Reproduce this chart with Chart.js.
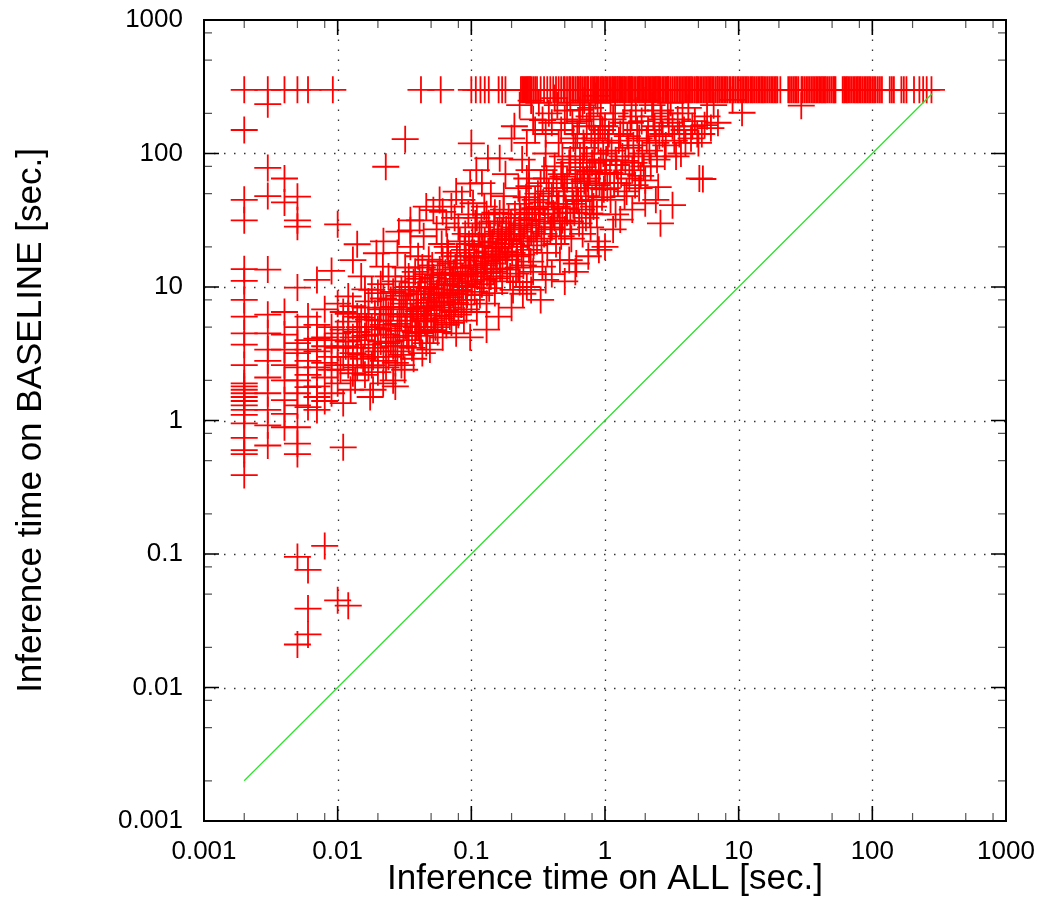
<!DOCTYPE html>
<html>
<head>
<meta charset="utf-8">
<script src="https://cdn.jsdelivr.net/npm/chart.js@4.4.1/dist/chart.umd.min.js"></script>
<style>
  html, body { margin: 0; padding: 0; background: #fff; }
  #wrap { width: 1048px; height: 923px; }
</style>
</head>
<body>
<div id="wrap"><canvas id="chart" width="1048" height="923"></canvas></div>
<script>
// axes
const decadeTicks = [0.001, 0.01, 0.1, 1, 10, 100, 1000];
const tickLabels = ['0.001', '0.01', '0.1', '1', '10', '100', '1000'];
const minorMults = [2, 5, 8];

// runs that hit the time limit on BASELINE (all plotted at y = 300)
const TIMEOUT_Y = 300;
const timeoutX = [0.002, 0.003, 0.004, 0.005, 0.006, 0.0092, 0.042, 0.059, 0.1, 0.108, 0.117, 0.126,
  0.135, 0.16, 0.17, 0.18, 0.235, 0.24, 0.245, 0.25, 0.255, 0.26, 0.265, 0.27, 0.275, 0.28, 0.29,
  0.3, 0.31, 0.33, 0.35, 0.37, 0.39, 0.41, 0.43, 0.45, 0.47, 0.49, 0.5, 0.52, 0.54, 0.55, 0.57,
  0.58, 0.6, 0.62, 0.63, 0.65, 0.66, 0.68, 0.7, 0.72, 0.74, 0.75, 0.78, 0.8, 0.82, 0.84, 0.86,
  0.88, 0.9, 0.93, 0.95, 0.97, 1.0, 1.02, 1.05, 1.08, 1.1, 1.13, 1.15, 1.18, 1.2, 1.23, 1.25,
  1.28, 1.3, 1.33, 1.36, 1.39, 1.42, 1.46, 1.5, 1.52, 1.55, 1.58, 1.6, 1.65, 1.7, 1.75, 1.79,
  1.82, 1.86, 1.9, 1.95, 2.0, 2.05, 2.1, 2.15, 2.2, 2.25, 2.3, 2.35, 2.4, 2.45, 2.5, 2.55, 2.6,
  2.68, 2.75, 2.82, 2.9, 2.95, 3.0, 3.1, 3.2, 3.3, 3.4, 3.5, 3.6, 3.7, 3.8, 3.9, 4.0, 4.1, 4.2,
  4.3, 4.4, 4.5, 4.65, 4.8, 4.9, 5.0, 5.15, 5.3, 5.45, 5.6, 5.75, 5.9, 6.05, 6.2, 6.35, 6.5,
  6.7, 6.9, 7.0, 7.2, 7.4, 7.6, 7.8, 8.0, 8.2, 8.5, 8.7, 9.0, 9.2, 9.5, 9.8, 10, 10.3, 10.6,
  10.9, 11.2, 11.5, 11.8, 12.2, 12.5, 12.8, 13.2, 13.6, 14, 14.4, 14.8, 15.1, 15.5, 16, 16.5,
  17, 17.5, 18, 18.5, 19, 19.5, 20.5, 23.5, 24.2, 25, 25.8, 26.5, 27.2, 28, 29.5, 30, 31, 32,
  33, 34, 35, 36, 37, 38, 39, 40, 41, 42, 43, 44, 45, 46.5, 48, 49.5, 51, 52, 53, 60, 61.5, 63,
  64.5, 66, 68, 70, 72, 74, 76, 78, 80, 82, 84.5, 87, 89.5, 92, 94.5, 97, 100, 103, 106, 110,
  114, 118, 135, 140, 145, 165, 172, 180, 205, 225, 240, 255, 277];

// [ALL, BASELINE] pairs, seconds
const leftPts = [
  [0.002,150],[0.002,45],[0.002,31.6],[0.002,13.6],[0.002,11.1],[0.002,8],[0.002,6],[0.002,4.5],
  [0.002,3.7],[0.002,2.6],[0.002,1.9],[0.002,1.8],[0.002,1.7],[0.002,1.6],[0.002,1.5],[0.002,1.4],
  [0.002,1.3],[0.002,1.2],[0.002,1.1],[0.002,0.95],[0.002,0.74],[0.002,0.6],[0.002,0.56],[0.002,0.39],
  [0.003,234],[0.003,78],[0.003,48],[0.003,13.5],[0.003,6.2],[0.003,4.5],[0.003,3.4],[0.003,2.8],
  [0.003,2.1],[0.003,1.6],[0.003,1.2],[0.003,0.92],[0.003,0.65],
  [0.004,65],[0.004,43],[0.004,6.5],[0.004,4.4],[0.004,3.4],[0.004,2.6],[0.004,2.0],[0.004,1.42],
  [0.004,1.12],[0.004,0.89],
  [0.005,47.5],[0.005,31.6],[0.005,28.3],[0.005,9.9],[0.005,5.0],[0.005,3.8],[0.005,3.2],[0.005,2.5],
  [0.005,2.0],[0.005,1.6],[0.005,1.3],[0.005,0.89],[0.005,0.67],[0.005,0.56],
  [0.006,6.0],[0.006,4.0],[0.006,3.4],[0.006,2.8],[0.006,2.2],[0.006,1.78],[0.006,1.26],
  [0.007,11.3],[0.007,5.2],[0.007,4.1],[0.007,3.3],[0.007,2.5],[0.007,1.8],[0.007,1.5],[0.007,1.2],
  [0.008,6.8],[0.008,4.2],[0.008,3.6],[0.008,2.7],[0.008,2.1],[0.008,1.4],
  [0.009,13.2],[0.009,5.0],[0.009,4.0],[0.009,3.0],[0.009,2.4],[0.009,1.6],
  [0.01,29.5],[0.01,7.5],[0.01,4.5],[0.01,3.5],[0.01,2.6],[0.01,1.9],
  [0.011,6.5],[0.011,4.8],[0.011,3.0],[0.011,1.35],[0.011,0.63],
  [0.012,8.5],[0.012,5.5],[0.012,3.9],[0.012,2.6],
  [0.013,15.9],[0.013,4.2],[0.013,2.26],
  [0.014,20.9],[0.014,6.0],[0.014,3.5]
];

const lowPts = [
  [0.005,0.095],[0.006,0.076],[0.008,0.115],[0.006,0.039],[0.01,0.045],[0.012,0.041],
  [0.006,0.025],[0.005,0.021]
];

const bandPtsA = [
  [0.0164,5.0],[0.0184,3.0],[0.0184,1.7],[0.0195,17.9],[0.0206,5.6],[0.0218,14.2],[0.0219,1.9],
  [0.0229,79.6],[0.023,3.8],[0.026,2.0],[0.0287,26],[0.029,6.3],[0.0317,2.4],[0.032,128],
  [0.035,31.6],[0.035,26.6],[0.0388,5.0],[0.0388,8],[0.041,31.6],[0.041,4.5],[0.046,3.8],[0.046,40],
  [0.049,3.4],[0.052,4.75],[0.052,8.9],[0.052,37.6],[0.0579,44.9],[0.061,36.6],[0.061,4.2],[0.069,6],
  [0.069,12.6],[0.0709,40],[0.077,4.5],[0.077,51.9],[0.091,15.9],[0.091,10],[0.098,4.2],[0.098,59.6],
  [0.015,4.0],[0.016,7.0],[0.017,2.5],[0.018,9.5],[0.019,4.4],[0.02,3.3],[0.021,6.8],[0.022,2.8],
  [0.024,4.9],[0.025,8.0],[0.026,3.6],[0.027,11],[0.028,5.3],[0.03,3.1],[0.031,7.5],[0.033,4.3],
  [0.034,10],[0.036,6.0],[0.037,2.9],[0.038,13],[0.04,6.6],[0.042,9.3],[0.043,3.2],[0.045,5.5],
  [0.047,7.2],[0.048,16],[0.05,11],[0.053,6.1],[0.055,9.0],[0.056,4.6],[0.058,13.5],[0.06,7.8],
  [0.063,10.5],[0.065,5.2],[0.067,18],[0.07,8.4],[0.072,11.5],[0.074,6.5],[0.076,14],[0.079,9.5],
  [0.082,22],[0.084,7.4],[0.086,12],[0.088,5.6],[0.09,25],[0.093,8.8],[0.095,13],[0.097,17],
  [0.0135,2.0],[0.0145,5.0],[0.0155,2.9],[0.017,5.7],[0.0125,1.7],[0.015,12],[0.0175,1.5],
  [0.02,9.0],[0.023,7.0],[0.027,1.8],[0.03,9.5],[0.035,20],[0.04,17],[0.044,24],[0.055,27],
  [0.06,21],[0.065,30],[0.075,33],[0.08,28],[0.085,45],[0.095,35],[0.024,12],[0.032,14],
  [0.022,22],[0.028,18],
  [0.0105,2.4],[0.0115,3.6],[0.012,6.3],[0.013,3.2],[0.013,7.2],[0.014,2.5],[0.014,4.6],[0.015,3.1],
  [0.015,5.9],[0.016,2.2],[0.016,4.3],[0.016,9.6],[0.017,3.7],[0.017,7.8],[0.018,2.6],[0.018,5.0],
  [0.019,3.5],[0.019,6.3],[0.02,2.3],[0.02,4.8],[0.021,3.9],[0.021,10.5],[0.022,5.2],[0.022,8.2],
  [0.023,2.5],[0.023,4.4],[0.024,3.0],[0.024,6.2],[0.025,3.9],[0.025,5.6],[0.026,7.1],[0.026,9.2],
  [0.027,4.2],[0.027,2.7],[0.028,3.3],[0.029,4.7],[0.029,8.6],[0.03,6.0],[0.03,2.6],
  [0.031,3.6],[0.032,5.1],[0.032,9.0],[0.033,6.8],[0.034,4.0],[0.034,12],[0.035,5.6],[0.035,8.0],
  [0.036,3.5],[0.037,7.0],[0.037,10.8],[0.038,4.6],[0.039,6.2],[0.04,8.8],[0.04,5.0],[0.041,11.5],
  [0.042,4.3],[0.042,6.9],[0.043,14],[0.044,5.8],[0.044,8.0],[0.045,10],[0.046,6.3],[0.047,4.8],
  [0.047,12.5],[0.048,7.6],[0.049,9.8],[0.05,5.6],[0.05,7.0],[0.051,14.5],[0.052,11.8],[0.053,8.3],
  [0.054,5.0],[0.055,6.7],[0.056,12.3],[0.057,9.6],[0.058,7.3],[0.06,5.8],[0.06,10.5],[0.061,15.5],
  [0.062,8.7],[0.063,6.7],[0.064,12.8],[0.066,9.1],[0.066,20],[0.068,7.0],[0.069,10.3],[0.07,15],
  [0.071,5.4],[0.073,8.9],[0.074,12.3],[0.076,7.6],[0.078,17],[0.079,11],[0.08,6.2],[0.081,9.4],
  [0.083,14],[0.085,10.2],[0.087,8.0],[0.089,19],[0.09,12.4],[0.092,6.8],[0.094,10.7],[0.096,21],
  [0.099,14]
];

const bandPtsB = [
  [0.1,119],[0.103,42.4],[0.108,12.6],[0.109,75],[0.122,20],[0.133,92],[0.163,92],[0.163,35.6],
  [0.163,15.9],[0.194,25],[0.216,12.6],[0.23,10.9],[0.243,8.9],[0.26,10],[0.26,31.6],[0.26,65],
  [0.27,75],[0.28,249],[0.325,40],[0.34,14.2],[0.341,178],[0.36,100],[0.36,11.3],[0.41,35.6],
  [0.46,15.9],[0.48,31.6],[0.484,67],[0.5,27],[0.54,15.9],[0.57,169],[0.61,45],[0.61,15],
  [0.65,212],[0.685,79],[0.77,35.6],
  [0.1,8.0],[0.105,18],[0.11,6.5],[0.115,25],[0.12,10.5],[0.125,14.5],[0.13,7.5],[0.135,30],
  [0.14,12],[0.145,20],[0.15,9],[0.155,16.5],[0.16,24],[0.17,11],[0.175,48],[0.18,18.5],
  [0.185,13.5],[0.19,33],[0.2,21],[0.205,9.5],[0.21,28],[0.22,17],[0.225,55],[0.235,23],
  [0.245,14.5],[0.25,38],[0.27,19],[0.28,26],[0.29,13],[0.3,45],[0.31,22],[0.32,30],[0.33,60],
  [0.35,25],[0.37,18],[0.38,52],[0.4,28],[0.42,80],[0.43,21],[0.44,40],[0.45,120],[0.47,24],
  [0.5,55],[0.52,36],[0.55,90],[0.56,23],[0.58,42],[0.6,70],[0.62,140],[0.64,30],[0.66,55],
  [0.68,25],[0.7,110],[0.72,48],[0.74,65],[0.76,190],[0.78,28],[0.8,85],[0.82,40],[0.84,130],
  [0.86,58],[0.88,22],[0.9,75],[0.92,160],[0.95,47],[0.97,100],[0.12,60],[0.14,50],[0.18,70],
  [0.2,130],[0.24,90],[0.3,150],[0.38,200],[0.44,230],[0.5,180],[0.55,240],[0.7,250],[0.85,270],
  [0.13,4.8],[0.16,6.0],[0.2,7.0],[0.28,9.5],[0.33,8.0],[0.4,12.5],[0.5,11],[0.6,13],[0.75,17],
  [0.9,19],[0.15,36],[0.23,42],[0.11,33],[0.125,40],[0.17,26],[0.27,57],[0.35,75],[0.48,95],
  [0.65,95],
  [0.101,11],[0.102,24],[0.104,14.5],[0.106,9.2],[0.107,30],[0.109,16.5],[0.111,12],[0.113,20.5],
  [0.116,8.7],[0.118,13.5],[0.119,28],[0.121,17],[0.124,11.3],[0.126,22],[0.128,15.5],[0.13,35],
  [0.131,12.7],[0.134,18.5],[0.136,9.8],[0.138,25],[0.141,15],[0.143,21.5],[0.146,13],[0.148,31],
  [0.151,17.6],[0.154,11.6],[0.157,26],[0.16,19.5],[0.164,13.8],[0.167,23],[0.171,17],[0.174,38],
  [0.178,21],[0.182,27],[0.186,16],[0.19,22.5],[0.195,12],[0.198,30],[0.202,18],[0.207,25],
  [0.212,35],[0.218,20],[0.224,14],[0.228,27],[0.233,33],[0.238,17.5],[0.244,22],[0.25,29],
  [0.257,47],[0.263,24],[0.27,36],[0.278,15.5],[0.285,32],[0.292,20.5],[0.298,39],
  [0.305,28],[0.315,50],[0.325,35],[0.335,23],[0.345,43],[0.355,31],[0.365,65],[0.375,38],
  [0.39,27],[0.4,48],[0.41,60],[0.42,33],[0.435,55],[0.45,42],[0.46,30],[0.47,70],[0.49,48],
  [0.51,39],[0.52,64],[0.54,85],[0.55,31],[0.57,52],[0.59,36],[0.6,110],[0.62,60],[0.63,44],
  [0.65,75],[0.67,38],[0.69,120],[0.7,62],[0.72,33],[0.73,90],[0.75,55],[0.77,73],[0.79,140],
  [0.8,45],[0.83,100],[0.85,70],[0.87,35],[0.89,125],[0.91,60],[0.93,88],[0.96,150],[0.98,54],
  [0.21,160],[0.23,230],[0.26,120],[0.29,180],[0.32,240],[0.36,140],[0.4,170],[0.42,260],
  [0.47,150],[0.52,210],[0.58,130],[0.64,175],[0.68,230],[0.73,160],[0.78,220],[0.82,180],
  [0.88,240],[0.93,200]
];

const bandPtsC = [
  [1.0,71],[1.2,89],[1.6,75],[2.0,63],[2.4,45],[3.2,41],[1.0,20],[2.0,42.4],[5.08,65],[5.4,64.4],
  [5.56,163],[9.0,252],[10.6,202],[29.4,228],
  [1.05,120],[1.1,45],[1.15,180],[1.2,35],[1.25,60],[1.3,140],[1.35,95],[1.4,230],[1.45,52],
  [1.5,110],[1.55,170],[1.6,38],[1.65,85],[1.7,210],[1.8,130],[1.85,68],[1.9,100],[2.0,250],
  [2.1,150],[2.2,80],[2.3,190],[2.4,120],[2.5,56],[2.6,210],[2.7,140],[2.8,95],[3.0,170],
  [3.1,240],[3.3,125],[3.5,180],[3.7,100],[3.9,150],[4.2,220],[4.4,130],[4.7,175],[5.0,120],
  [5.3,140],[5.8,190],[6.2,155],[6.5,230],[7.0,170],[1.0,160],[1.1,250],[1.3,32],[1.8,55],
  [2.6,30],[1.15,27],[1.4,48],
  [1.02,90],[1.04,55],[1.07,140],[1.09,72],[1.12,105],[1.17,60],[1.19,200],[1.22,82],[1.27,125],
  [1.32,70],[1.37,170],[1.42,88],[1.47,135],[1.52,65],[1.58,190],[1.63,115],[1.68,58],[1.74,150],
  [1.78,95],[1.88,175],[1.95,80],[2.05,125],[2.15,105],[2.25,230],[2.35,160],[2.45,90],[2.55,135],
  [2.65,180],[2.85,115],[2.95,200],[3.2,160],[3.4,95],[3.6,140],[3.8,200],[4.0,120],[4.5,160],
  [4.9,140]
];

// y = x reference line
const diagX = [0.002, 280];

const points = [];
timeoutX.forEach(x => points.push({x, y: TIMEOUT_Y}));
[leftPts, lowPts, bandPtsA, bandPtsB, bandPtsC].forEach(list => {
  list.forEach(([x, y]) => points.push({x, y}));
});
const diagPts = diagX.map(v => ({x: v, y: v}));

const FONT = "'Liberation Sans', Arial, Helvetica, sans-serif";

function decadeOnly(scale) {
  scale.ticks = decadeTicks.map(v => ({value: v}));
}

// gnuplot style frame: dotted grid, full box, inward tics on all sides
const framePlugin = {
  id: 'frame',
  beforeDatasetsDraw(chart) {
    const {ctx, chartArea: a, scales: {x, y}} = chart;
    ctx.save();
    ctx.strokeStyle = '#333';
    ctx.lineWidth = 1.3;
    ctx.setLineDash([1.5, 8.5]);
    decadeTicks.slice(1, -1).forEach(v => {
      const px = Math.round(x.getPixelForValue(v)) + 0.5;
      ctx.beginPath(); ctx.moveTo(px, a.bottom); ctx.lineTo(px, a.top); ctx.stroke();
      const py = Math.round(y.getPixelForValue(v)) + 0.5;
      ctx.beginPath(); ctx.moveTo(a.left, py); ctx.lineTo(a.right, py); ctx.stroke();
    });
    ctx.restore();
  },
  afterDatasetsDraw(chart) {
    const {ctx, chartArea: a, scales: {x, y}} = chart;
    ctx.save();
    ctx.setLineDash([]);
    ctx.strokeStyle = '#000';
    ctx.lineWidth = 1.6;
    const tic = (v, len) => {
      const px = x.getPixelForValue(v);
      ctx.beginPath();
      ctx.moveTo(px, a.bottom); ctx.lineTo(px, a.bottom - len);
      ctx.moveTo(px, a.top); ctx.lineTo(px, a.top + len);
      ctx.stroke();
      const py = y.getPixelForValue(v);
      ctx.beginPath();
      ctx.moveTo(a.left, py); ctx.lineTo(a.left + len, py);
      ctx.moveTo(a.right, py); ctx.lineTo(a.right - len, py);
      ctx.stroke();
    };
    decadeTicks.forEach(v => tic(v, 15));
    ctx.strokeStyle = '#555';
    ctx.lineWidth = 1.2;
    decadeTicks.slice(0, -1).forEach(d => minorMults.forEach(m => tic(d * m, 8)));
    ctx.strokeStyle = '#000';
    ctx.lineWidth = 2;
    ctx.strokeRect(a.left, a.top, a.right - a.left, a.bottom - a.top);
    ctx.restore();
  }
};

const ctx = document.getElementById('chart').getContext('2d');
new Chart(ctx, {
  type: 'scatter',
  data: {
    datasets: [
      {
        type: 'line',
        label: 'x',
        data: diagPts,
        borderColor: '#2fe02f',
        borderWidth: 1.3,
        pointRadius: 0,
        fill: false
      },
      {
        label: 'runs',
        data: points,
        pointStyle: 'cross',
        pointRadius: 13.5,
        pointHoverRadius: 13.5,
        borderColor: '#ff0000',
        backgroundColor: '#ff0000',
        borderWidth: 1.8
      }
    ]
  },
  options: {
    responsive: false,
    animation: false,
    devicePixelRatio: 1,
    events: [],
    layout: { padding: { left: 0, right: 42, top: 20, bottom: 0 } },
    plugins: { legend: { display: false }, tooltip: { enabled: false } },
    scales: {
      x: {
        type: 'logarithmic',
        min: 0.001,
        max: 1000,
        afterBuildTicks: decadeOnly,
        afterFit(s) { s.height = 102; s.paddingLeft = 0; s.paddingRight = 0; },
        grid: { display: false, drawTicks: false },
        border: { display: false },
        ticks: {
          autoSkip: false, maxRotation: 0, padding: 15, color: '#000',
          font: { family: FONT, size: 26 },
          callback: (v, i) => tickLabels[i]
        },
        title: {
          display: true, text: 'Inference time on ALL [sec.]', color: '#000',
          font: { family: FONT, size: 35 },
          padding: { top: 0, bottom: 23 }
        }
      },
      y: {
        type: 'logarithmic',
        min: 0.001,
        max: 1000,
        afterBuildTicks: decadeOnly,
        afterFit(s) { s.width = 204; s.paddingTop = 0; s.paddingBottom = 0; },
        grid: { display: false, drawTicks: false },
        border: { display: false },
        ticks: {
          autoSkip: false, padding: 21, color: '#000',
          font: { family: FONT, size: 26 },
          callback: (v, i) => tickLabels[i]
        },
        title: {
          display: true, text: 'Inference time on BASELINE [sec.]', color: '#000',
          font: { family: FONT, size: 35 },
          padding: { top: 10, bottom: 0 }
        }
      }
    }
  },
  plugins: [framePlugin]
});
</script>
</body>
</html>
